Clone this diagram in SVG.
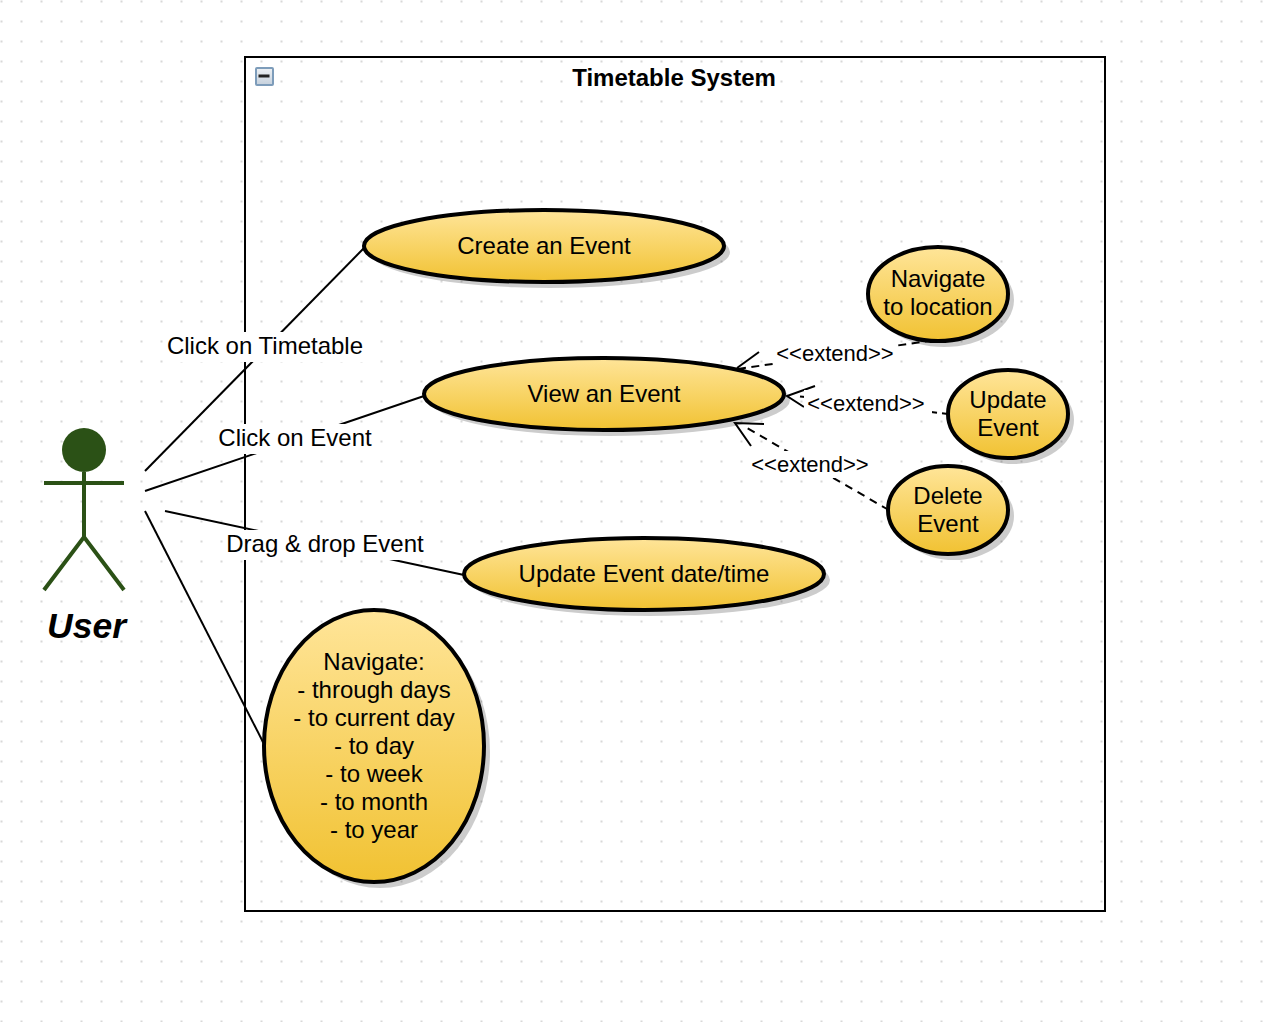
<svg xmlns="http://www.w3.org/2000/svg" width="1266" height="1022" viewBox="0 0 1266 1022">
<style>
text{font-family:"Liberation Sans",Arial,sans-serif;font-size:24px;fill:#000;text-anchor:middle}
.uc{fill:url(#g);stroke:#000;stroke-width:4}
.sh{fill:#000;fill-opacity:.2}
.c{fill:none;stroke:#000;stroke-width:2}
.d{fill:none;stroke:#000;stroke-width:2}
.lb{fill:#fff}
.ex{font-size:22px}
.ac{fill:none;stroke:#2b5116;stroke-width:4}
</style>
<defs>
<pattern id="dots" width="20" height="20" patternUnits="userSpaceOnUse"><rect x="0.5" y="0.5" width="2" height="2" fill="#d8d8d8"/></pattern>
<linearGradient id="g" x1="0" y1="0" x2="0" y2="1"><stop offset="0" stop-color="#ffe599"/><stop offset="1" stop-color="#f1c232"/></linearGradient>
<linearGradient id="b" x1="0" y1="0" x2="0" y2="1"><stop offset="0" stop-color="#eef1f4"/><stop offset="1" stop-color="#c5d0dc"/></linearGradient>
</defs>
<rect width="1266" height="1022" fill="#fff"/>
<rect width="1266" height="1022" fill="url(#dots)"/>
<g id="system">
<rect x="245" y="57" width="860" height="854" fill="none" stroke="#000" stroke-width="2"/>
<rect x="256" y="68" width="17" height="17" rx="1" fill="url(#b)" stroke="#7d9cba" stroke-width="2"/>
<rect x="258.500" y="74.500" width="11" height="3" fill="#222"/>
<text x="674" y="86" font-weight="bold">Timetable System</text>
</g>
<g id="connectors">
<path class="c" d="M145 471L364 248"/>
<path class="c" d="M145 491L424 396"/>
<path class="c" d="M165 511L464 575"/>
<path class="c" d="M145 511L264 744"/>
<path class="d" stroke-dasharray="8 5.500" d="M738 369L928 341"/>
<path class="c" d="M759 352L737 368"/>
<path class="d" stroke-dasharray="8 5" d="M800 396.400L948 414"/>
<path class="c" d="M815 386L787 396L804 407"/>
<path class="d" stroke-dasharray="8 6.100" d="M747.700 428.400L887 509"/>
<path class="c" d="M764 424L735 423L751 446"/>
<rect class="lb" x="163" y="332" width="204" height="30"/>
<text x="265" y="354">Click on Timetable</text>
<rect class="lb" x="215" y="424" width="160" height="30"/>
<text x="295" y="446">Click on Event</text>
<rect class="lb" x="223" y="530" width="204" height="30"/>
<text x="325" y="552">Drag &amp; drop Event</text>
<rect class="lb" x="773" y="340" width="124" height="27"/>
<text class="ex" x="835" y="361">&lt;&lt;extend&gt;&gt;</text>
<rect class="lb" x="804" y="390" width="128" height="27"/>
<text class="ex" x="866" y="411">&lt;&lt;extend&gt;&gt;</text>
<rect class="lb" x="748" y="451" width="124" height="27"/>
<text class="ex" x="810" y="472">&lt;&lt;extend&gt;&gt;</text>
</g>
<g id="actor-user">
<circle cx="84" cy="450" r="22" fill="#2b5116"/>
<path class="ac" d="M84 472V537M44 483H124M44 590L84 537L124 590"/>
<text x="86.500" y="638" font-weight="bold" font-style="italic" style="font-size:35.500px">User</text>
</g>
<g id="uc-create">
<ellipse class="sh" cx="550" cy="252" rx="180" ry="36"/>
<ellipse class="uc" cx="544" cy="246" rx="180" ry="36"/>
<text x="544" y="254">Create an Event</text>
</g>
<g id="uc-view">
<ellipse class="sh" cx="610" cy="400" rx="180" ry="36"/>
<ellipse class="uc" cx="604" cy="394" rx="180" ry="36"/>
<text x="604" y="402">View an Event</text>
</g>
<g id="uc-update-date">
<ellipse class="sh" cx="650" cy="580" rx="180" ry="36"/>
<ellipse class="uc" cx="644" cy="574" rx="180" ry="36"/>
<text x="644" y="582">Update Event date/time</text>
</g>
<g id="uc-navigate">
<ellipse class="sh" cx="380" cy="752" rx="110" ry="136"/>
<ellipse class="uc" cx="374" cy="746" rx="110" ry="136"/>
<text x="374" y="670">Navigate:</text>
<text x="374" y="698">- through days</text>
<text x="374" y="726">- to current day</text>
<text x="374" y="754">- to day</text>
<text x="374" y="782">- to week</text>
<text x="374" y="810">- to month</text>
<text x="374" y="838">- to year</text>
</g>
<g id="uc-location">
<ellipse class="sh" cx="944" cy="300" rx="70" ry="47"/>
<ellipse class="uc" cx="938" cy="294" rx="70" ry="47"/>
<text x="938" y="287">Navigate</text>
<text x="938" y="315">to location</text>
</g>
<g id="uc-update">
<ellipse class="sh" cx="1014" cy="420" rx="60" ry="44"/>
<ellipse class="uc" cx="1008" cy="414" rx="60" ry="44"/>
<text x="1008" y="408">Update</text>
<text x="1008" y="436">Event</text>
</g>
<g id="uc-delete">
<ellipse class="sh" cx="954" cy="516" rx="60" ry="44"/>
<ellipse class="uc" cx="948" cy="510" rx="60" ry="44"/>
<text x="948" y="504">Delete</text>
<text x="948" y="532">Event</text>
</g>
</svg>
